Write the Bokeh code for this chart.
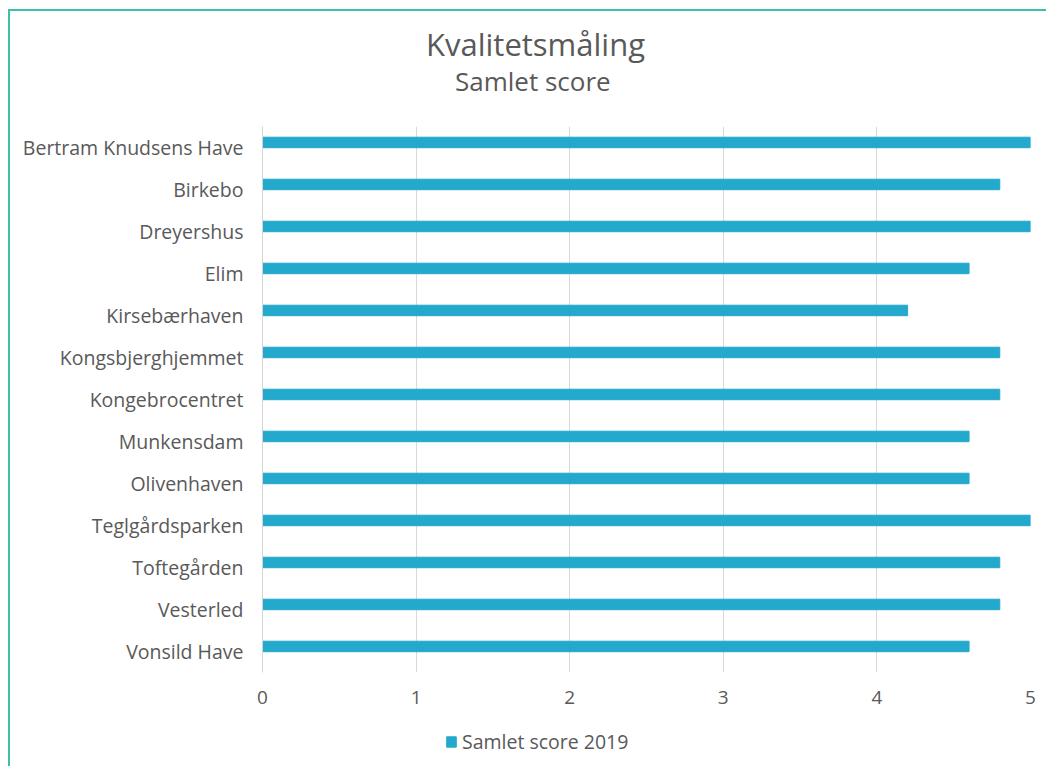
from bokeh.plotting import figure
from bokeh.layouts import column
from bokeh.models import (FactorRange, Range1d, FixedTicker, Legend, LegendItem, ColumnDataSource, Div)
from bokeh.transform import dodge
from bokeh.embed import file_html
from bokeh.resources import INLINE

categories = ["Bertram Knudsens Have", "Birkebo", "Dreyershus", "Elim", "Kirsebærhaven",
              "Kongsbjerghjemmet", "Kongebrocentret", "Munkensdam", "Olivenhaven",
              "Teglgårdsparken", "Toftegården", "Vesterled", "Vonsild Have"]
scores_2019 = [5.0, 4.8, 5.0, 4.6, 4.2, 4.8, 4.8, 4.6, 4.6, 5.0, 4.8, 4.8, 4.6]
x_ticks = [0, 1, 2, 3, 4, 5]
series_name = "Samlet score 2019"
title_text = "Kvalitetsmåling"
subtitle_text = "Samlet score"

FONT = "Open Sans"
TXT = "#595959"
BAR = "#23a9cc"
BORDER = "#3dbfa9"

src = ColumnDataSource(dict(cat=categories, val=scores_2019))

# title block
head = Div(width=1036, height=100, margin=0, text=(
    f'<div style="font-family:\'{FONT}\';color:{TXT};line-height:1;white-space:nowrap;">'
    f'<div style="font-size:31px;padding-top:18px;padding-left:416px;">{title_text}</div>'
    f'<div style="font-size:26px;margin-top:8px;padding-left:445px;">{subtitle_text}</div>'
    f'</div>'))

p = figure(width=1036, height=607, output_backend="svg", toolbar_location=None, title=None,
           y_range=FactorRange(*list(reversed(categories)), range_padding=0),
           x_range=Range1d(0, 5),
           min_border_left=252, min_border_right=16, min_border_top=15, min_border_bottom=46)
p.outline_line_color = None
p.background_fill_color = "white"
p.border_fill_color = "white"

r = p.hbar(y=dodge("cat", 0.12, range=p.y_range), right="val", left=0, height=0.25,
           source=src, color=BAR)

p.xaxis.ticker = FixedTicker(ticks=x_ticks)
p.xaxis.axis_line_color = None
p.xaxis.major_tick_line_color = None
p.xaxis.major_tick_out = 0
p.xaxis.minor_tick_line_color = None
p.xaxis.major_label_text_font = FONT
p.xaxis.major_label_text_font_size = "19px"
p.xaxis.major_label_text_color = TXT
p.xaxis.major_label_standoff = 18

p.yaxis.axis_line_color = "#d4d4d4"
p.yaxis.major_tick_line_color = None
p.yaxis.major_tick_out = 0
p.yaxis.minor_tick_line_color = None
p.yaxis.major_label_text_font = FONT
p.yaxis.major_label_text_font_size = "19.5px"
p.yaxis.major_label_text_color = TXT
p.yaxis.major_label_standoff = 19

p.xgrid.grid_line_color = "#d9d9d9"
p.ygrid.grid_line_color = None

# legend strip below the chart (its range holds only the series name, so no bars show)
lf = figure(width=1036, height=48, output_backend="svg", toolbar_location=None, title=None,
            x_axis_type=None, y_axis_type=None, min_border=0,
            x_range=Range1d(0, 5), y_range=FactorRange(series_name))
lf.outline_line_color = None
lf.xgrid.grid_line_color = None
lf.ygrid.grid_line_color = None
lr = lf.hbar(y="cat", right="val", left=0, height=0.25, source=src, color=BAR)
legend = Legend(items=[LegendItem(label=series_name, renderers=[lr])], orientation="horizontal",
                location=(183, 11), border_line_color=None, glyph_width=12, glyph_height=13,
                label_text_font=FONT, label_text_font_size="19.5px", label_text_color=TXT,
                label_standoff=5, margin=0, padding=0, background_fill_alpha=0)
lf.add_layout(legend, "center")

layout = column(head, p, lf, spacing=0)
layout.styles = {"margin-left": "8px", "margin-top": "9px",
                 "border-left": "2px solid " + BORDER, "border-top": "2px solid " + BORDER}

open("out.html", "w").write(file_html(layout, INLINE))
